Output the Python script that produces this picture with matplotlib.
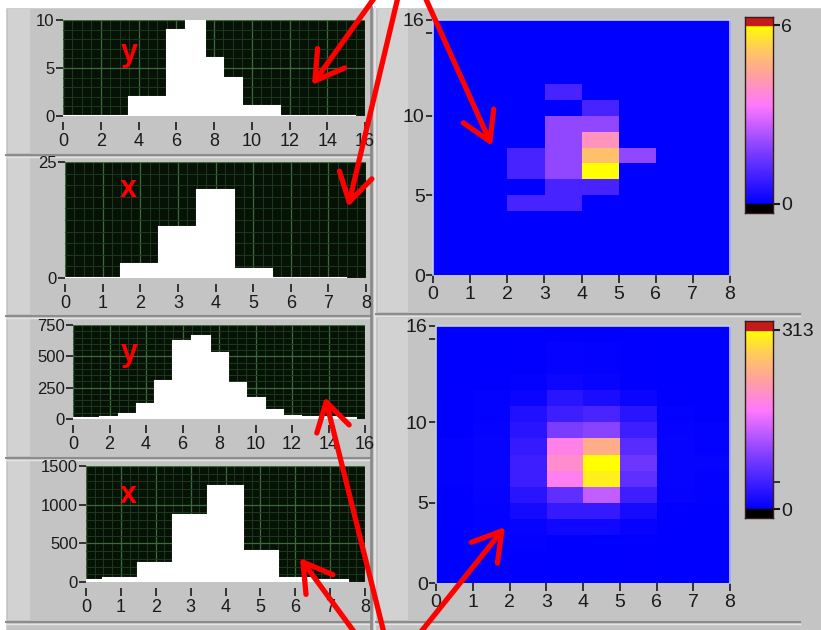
import numpy as np
import matplotlib
matplotlib.use("Agg")
import matplotlib.pyplot as plt
from matplotlib.colors import LinearSegmentedColormap
from matplotlib.patches import Rectangle
from matplotlib.ticker import MultipleLocator, FixedLocator

W, H = 821, 630

# projections (counts per bin)
y_bins_small = list(range(16))
y_counts_small = [0, 0, 0, 0, 2, 2, 9, 10, 6, 4, 1, 1, 0, 0, 0, 0]
x_bins_small = list(range(8))
x_counts_small = [0, 0, 3, 11, 19, 2, 0, 0]
y_bins_big = list(range(16))
y_counts_big = [10, 10, 12, 40, 120, 300, 625, 660, 530, 285, 165, 72, 25, 15, 15, 10]
x_bins_big = list(range(8))
x_counts_big = [30, 50, 250, 860, 1240, 400, 50, 30]

# intensity maps, one row per y (0..15), one column per x (0..7)
map_small = [
    [0, 0, 0, 0, 0, 0, 0, 0],
    [0, 0, 0, 0, 0, 0, 0, 0],
    [0, 0, 0, 0, 0, 0, 0, 0],
    [0, 0, 0, 0, 0, 0, 0, 0],
    [0, 0, 1, 1, 0, 0, 0, 0],
    [0, 0, 0, 1, 1, 0, 0, 0],
    [0, 0, 1, 2, 6, 0, 0, 0],
    [0, 0, 1, 2, 5, 2, 0, 0],
    [0, 0, 0, 2, 4, 0, 0, 0],
    [0, 0, 0, 2, 2, 0, 0, 0],
    [0, 0, 0, 0, 1, 0, 0, 0],
    [0, 0, 0, 1, 0, 0, 0, 0],
    [0, 0, 0, 0, 0, 0, 0, 0],
    [0, 0, 0, 0, 0, 0, 0, 0],
    [0, 0, 0, 0, 0, 0, 0, 0],
    [0, 0, 0, 0, 0, 0, 0, 0],
]
map_big = [
    [1, 2, 2, 1, 1, 2, 1, 0],
    [1, 2, 2, 1, 1, 2, 1, 0],
    [1, 2, 3, 2, 1, 2, 1, 0],
    [2, 3, 5, 12, 12, 4, 2, 0],
    [2, 3, 15, 40, 40, 18, 2, 0],
    [2, 4, 30, 70, 135, 45, 4, 3],
    [3, 5, 45, 180, 300, 70, 5, 3],
    [3, 5, 45, 200, 313, 80, 5, 5],
    [3, 5, 40, 185, 240, 65, 5, 3],
    [2, 4, 30, 90, 100, 45, 4, 3],
    [2, 3, 25, 45, 55, 30, 3, 2],
    [2, 3, 8, 30, 20, 8, 2, 1],
    [1, 2, 3, 10, 5, 2, 1, 1],
    [1, 1, 2, 4, 3, 2, 1, 1],
    [1, 1, 2, 4, 3, 2, 1, 1],
    [1, 1, 1, 2, 2, 1, 1, 1],
]
max_small = 6
max_big = 313

cmap = LinearSegmentedColormap.from_list("lv", [
    (0.0, "#0000ff"), (0.3, "#8040ff"), (0.55, "#ff78ff"),
    (0.72, "#ffa0a0"), (0.86, "#ffc860"), (1.0, "#ffff00")])

plt.rcParams["font.family"] = ["Liberation Sans", "DejaVu Sans"]
TXT = "#1a1a1a"


def box(l, t, r, b):
    return [l / W, 1 - b / H, (r - l) / W, (b - t) / H]


fig = plt.figure(figsize=(W / 100, H / 100), dpi=100)
fig.patch.set_facecolor("#c4c4c4")

# panel decoration in pixel coordinates
bg = fig.add_axes([0, 0, 1, 1])
bg.set_xlim(0, W)
bg.set_ylim(H, 0)
bg.axis("off")
bg.set_zorder(-1)
bg.add_patch(Rectangle((0, 0), W, 7, color="white"))
bg.add_patch(Rectangle((0, 0), 5, H, color="white"))
for top, bot in [(7, 155), (156, 316), (317, 458), (459, 622)]:
    bg.add_patch(Rectangle((8, top + 2), 22, bot - top - 4, color="#d2d2d2", lw=0))
    bg.plot([6, 370], [bot, bot], color="#8c8c8c", lw=1.5)
    bg.plot([6, 370], [bot + 2, bot + 2], color="#e4e4e4", lw=1)
bg.plot([371, 371], [7, H], color="#8a8a8a", lw=2)
bg.plot([375, 375], [7, H], color="#e2e2e2", lw=1.5)
for top, bot in [(7, 314), (316, 622)]:
    bg.add_patch(Rectangle((378, top + 2), 30, bot - top - 4, color="#d2d2d2", lw=0))
    bg.plot([376, 800], [bot, bot], color="#8c8c8c", lw=1.5)
    bg.plot([376, 800], [bot + 2, bot + 2], color="#e4e4e4", lw=1)


def hist_panel(rect, bins, counts, xmax, xmajor, xminor, ymax, yticks, yminor):
    ax = fig.add_axes(box(*rect))
    ax.set_facecolor("#061206")
    ax.bar(bins, counts, width=1.0, color="white", edgecolor="white", lw=1.5, zorder=3)
    ax.set_xlim(0, xmax)
    ax.set_ylim(0, ymax)
    ax.xaxis.set_major_locator(MultipleLocator(xmajor))
    ax.xaxis.set_minor_locator(MultipleLocator(xminor))
    ax.yaxis.set_major_locator(FixedLocator(yticks))
    ax.yaxis.set_minor_locator(MultipleLocator(yminor))
    ax.grid(which="major", color="#3d6a3d", lw=0.9, zorder=1)
    ax.grid(which="minor", color="#1d3a1d", lw=0.7, zorder=1)
    for s in ax.spines.values():
        s.set_visible(False)
    ax.spines["bottom"].set_position(("outward", 4))
    ax.tick_params(which="minor", length=0)
    ax.tick_params(axis="x", length=6, width=1.2, pad=2, labelsize=13, color=TXT, labelcolor=TXT)
    ax.tick_params(axis="y", length=5, width=1.2, pad=1, labelsize=12, color=TXT, labelcolor=TXT)
    return ax


hist_panel((63, 20, 365, 116), y_bins_small, y_counts_small, 16, 2, 0.5, 10, [0, 5, 10], 1)
hist_panel((65, 162, 366, 278), x_bins_small, x_counts_small, 8, 1, 0.25, 25, [0, 25], 2.5)
hist_panel((73, 325, 365, 419), y_bins_big, y_counts_big, 16, 2, 0.5, 750, [0, 250, 500, 750], 50)
hist_panel((86, 466, 365, 582), x_bins_big, x_counts_big, 8, 1, 0.25, 1500, [0, 500, 1000, 1500], 100)


def map_panel(rect, data, vmax, top_minor):
    ax = fig.add_axes(box(*rect))
    ax.imshow(np.array(data), origin="lower", extent=[0, 8, 0, 16], aspect="auto",
              cmap=cmap, vmin=0, vmax=vmax, interpolation="nearest")
    ax.set_xlim(0, 8)
    ax.set_ylim(0, 16)
    ax.xaxis.set_major_locator(MultipleLocator(1))
    ax.yaxis.set_major_locator(FixedLocator([0, 5, 10, 16]))
    ax.yaxis.set_minor_locator(FixedLocator([top_minor]))
    for s in ax.spines.values():
        s.set_color("#c4ccf2")
        s.set_linewidth(1.2)
    ax.spines["bottom"].set_visible(False)
    ax.tick_params(axis="x", length=6, width=1.2, pad=2, labelsize=14, color=TXT, labelcolor=TXT)
    ax.tick_params(axis="y", length=5, width=1.2, pad=1, labelsize=14, color=TXT, labelcolor=TXT)
    ax.tick_params(axis="y", which="minor", length=5, width=1.2, color=TXT)
    return ax


map_panel((433, 20, 730, 275), map_small, max_small, 15.2)
map_panel((436, 326, 730, 583), map_big, max_big, 15.2)


def ramp(rect, vmax, cap_top, cap_bot, extra):
    l, t, r, b = rect
    ax = fig.add_axes(box(*rect))
    span = b - t - cap_top - cap_bot
    per_px = vmax / span
    ax.set_xlim(0, 1)
    grad = np.linspace(0, vmax, 256).reshape(-1, 1)
    ax.imshow(grad, origin="lower", extent=[0, 1, 0, vmax], aspect="auto",
              cmap=cmap, vmin=0, vmax=vmax)
    ax.add_patch(Rectangle((0, -cap_bot * per_px), 1, cap_bot * per_px, color="black"))
    ax.add_patch(Rectangle((0, vmax), 1, cap_top * per_px, color="#c41a1a"))
    ax.set_ylim(-cap_bot * per_px, vmax + cap_top * per_px)
    ax.set_xticks([])
    ax.yaxis.tick_right()
    ax.set_yticks([0, vmax])
    ax.set_yticklabels(["0", str(vmax)])
    if extra:
        ax.yaxis.set_minor_locator(FixedLocator(extra))
    ax.tick_params(axis="y", length=5, width=1.5, pad=1, labelsize=14, color=TXT, labelcolor=TXT)
    ax.tick_params(axis="y", which="minor", length=5, width=1.2, color=TXT)
    for s in ax.spines.values():
        s.set_color("#3a1a1a")
        s.set_linewidth(1)
    return ax


ramp((745, 17, 773, 213), max_small, 8, 9, None)
ramp((745, 321, 773, 518), max_big, 9, 9, [47])

# red annotations drawn over the whole screenshot
ov = fig.add_axes([0, 0, 1, 1])
ov.set_xlim(0, W)
ov.set_ylim(H, 0)
ov.axis("off")
ov.set_zorder(10)

label_font = dict(color="#ff0000", fontsize=22, fontweight="bold",
                  family=["Liberation Sans", "DejaVu Sans"], ha="center", va="baseline")
ov.text(129, 61, "y", **label_font)
ov.text(128, 197, "x", **label_font)
ov.text(129, 361, "y", **label_font)
ov.text(128, 503, "x", **label_font)

arrows = [
    ((375, -3), (312, 85)),
    ((398, -3), (348, 207)),
    ((425, -3), (492, 146)),
    ((384, 633), (325, 397)),
    ((355, 633), (300, 558)),
    ((420, 633), (505, 527)),
]
for start, tip in arrows:
    ov.annotate("", xy=tip, xytext=start,
                arrowprops=dict(arrowstyle="->,head_length=1.0,head_width=0.6",
                                color="#ff0000", lw=3.8, mutation_scale=20,
                                shrinkA=0, shrinkB=0))

fig.savefig("out.png", dpi=100, facecolor=fig.get_facecolor())
